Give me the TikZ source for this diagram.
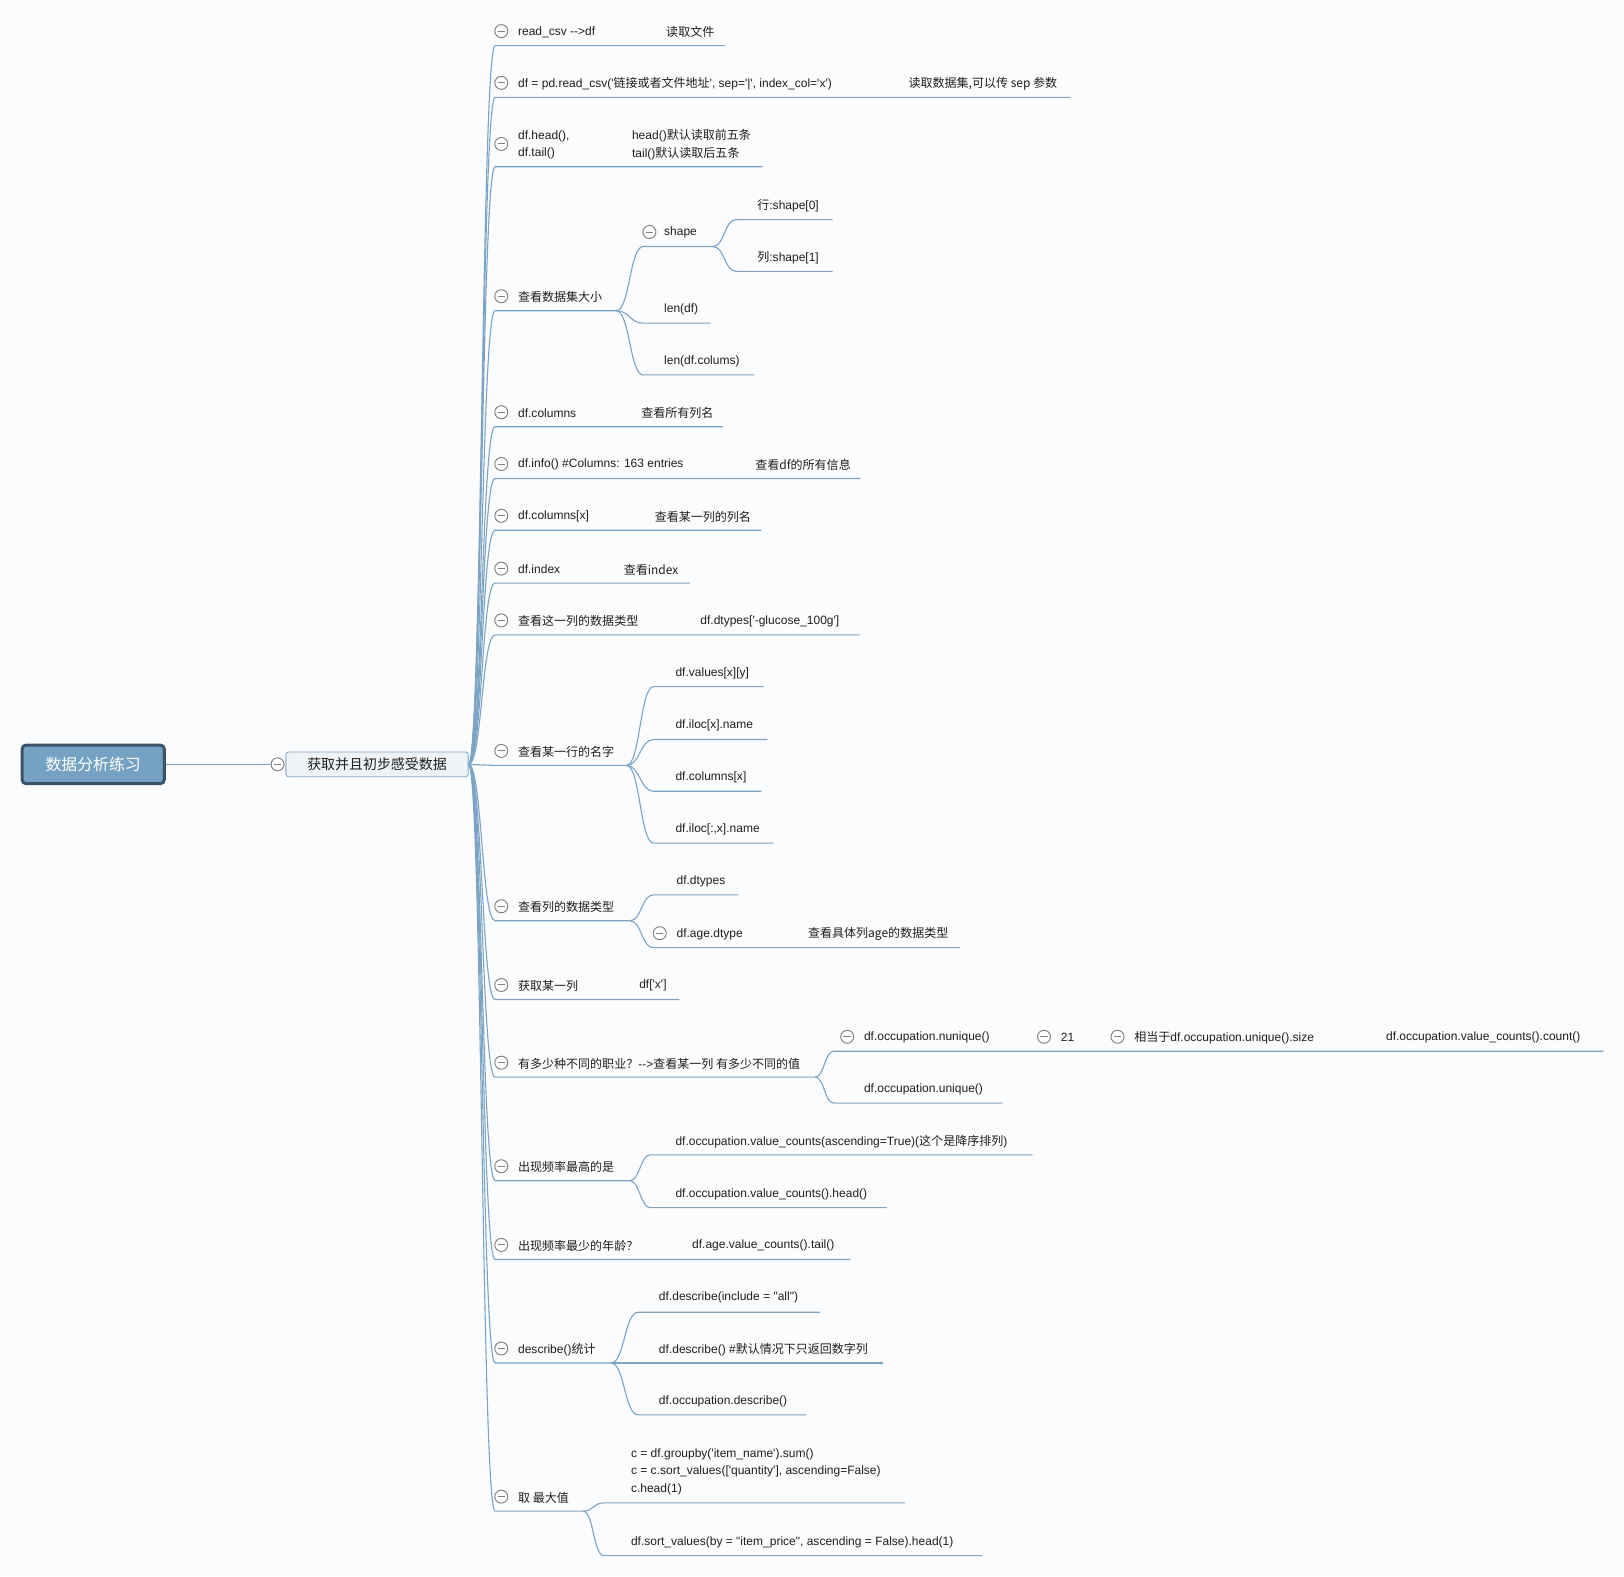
\documentclass[tikz,border=0pt]{standalone}
\usepackage{fontspec}
\newfontfamily\en{Liberation Sans}
\newfontfamily\zh{Noto Sans CJK SC}
\usepackage{tikz}
\usetikzlibrary{positioning, calc}

\definecolor{bgc}{RGB}{251,252,253}
\definecolor{linkc}{RGB}{125,163,196}
\definecolor{txtc}{RGB}{30,30,30}
\definecolor{foldc}{RGB}{130,130,130}
\definecolor{rootfill}{RGB}{117,162,195}
\definecolor{rootline}{RGB}{60,82,102}
\definecolor{subfill}{RGB}{238,243,248}
\definecolor{subline}{RGB}{128,164,196}
\newcommand\fs{\fontsize{8.7}{12.75}\selectfont}

\begin{document}
\begin{tikzpicture}[x=0.75pt, y=-0.75pt,
    txt/.style={anchor=west, inner sep=0pt, yshift=-0.6pt, text=txtc, font=\en\fs, align=left},
    fold/.style={circle, draw=foldc, fill=white, line width=0.7pt, minimum size=9.4pt, inner sep=0pt,
        path picture={\draw[foldc, line width=0.7pt] ([xshift=2pt]path picture bounding box.west) -- ([xshift=-2pt]path picture bounding box.east);}},
    link/.style={draw=linkc, line width=0.8pt},
    rootbox/.style={rectangle, rounded corners=3pt, draw=rootline, fill=rootfill, line width=2.2pt,
        minimum width=103pt, minimum height=28pt, text=white, font=\zh\fontsize{11.5}{14}\selectfont},
    subbox/.style={rectangle, rounded corners=2pt, draw=subline, fill=subfill, line width=0.6pt,
        minimum width=132pt, minimum height=18pt, text=txtc, font=\zh\fontsize{10.1}{12}\selectfont}]

    % background and page size
    \fill[bgc] (0,0) rectangle (1568,1522);

    % central topic
    \node[rootbox] (root) at (90,738) {数据分析练习};
    \node[subbox] (sub) at (364,738) {获取并且初步感受数据};
    \node[fold] (f0) at (268,738) {};
    \draw[link] (root.east) -- (f0.west);
    \coordinate (m0) at (sub.east);

    % read_csv
    \node[fold] (f1) at (484,30) {};
    \node[txt] (t1) at (500,30) {read\_csv -->df};
    \node[txt] (t1b) at (643,30) {\zh 读取文件};
    \coordinate (u1) at (478,44); \coordinate (e1) at (700,44);
    \draw[link] (m0) .. controls +(13,0) and +(-13,0) .. (u1) -- (e1);

    % pd.read_csv
    \node[fold] (f2) at (484,80) {};
    \node[txt] (t2) at (500,80) {df = pd.read\_csv('{\zh 链接或者文件地址}', sep='|', index\_col='x')};
    \node[txt] (t2b) at (877,80) {\zh 读取数据集,可以传 sep 参数};
    \coordinate (u2) at (478,94); \coordinate (e2) at (1033,94);
    \draw[link] (m0) .. controls +(13,0) and +(-13,0) .. (u2) -- (e2);

    % head / tail
    \node[fold] (f3) at (484,139) {};
    \node[txt] (t3) at (500,139) {df.head(),\\df.tail()};
    \node[txt] (t3b) at (610,139) {head(){\zh 默认读取前五条}\\tail(){\zh 默认读取后五条}};
    \coordinate (u3) at (478,161); \coordinate (e3) at (736,161);
    \draw[link] (m0) .. controls +(13,0) and +(-13,0) .. (u3) -- (e3);

    % size of the data set
    \node[fold] (f4) at (484,286) {};
    \node[txt] (t4) at (500,286) {\zh 查看数据集大小};
    \coordinate (u4) at (478,300); \coordinate (e4) at (595,300);
    \draw[link] (m0) .. controls +(13,0) and +(-13,0) .. (u4) -- (e4);

    \node[fold] (f4a) at (627,224) {};
    \node[txt] (t4a) at (641,224) {shape};
    \coordinate (u4a) at (621,238); \coordinate (e4a) at (688,238);
    \draw[link] (e4) .. controls +(13,0) and +(-13,0) .. (u4a) -- (e4a);
    \node[txt] (t4a1) at (731,198) {{\zh 行}:shape[0]};
    \coordinate (u4a1) at (711,212); \coordinate (e4a1) at (804,212);
    \draw[link] (e4a) .. controls +(12,0) and +(-12,0) .. (u4a1) -- (e4a1);
    \node[txt] (t4a2) at (731,248) {{\zh 列}:shape[1]};
    \coordinate (u4a2) at (711,262); \coordinate (e4a2) at (804,262);
    \draw[link] (e4a) .. controls +(12,0) and +(-12,0) .. (u4a2) -- (e4a2);
    \node[txt] (t4b) at (641,298) {len(df)};
    \coordinate (u4b) at (621,312); \coordinate (e4b) at (686,312);
    \draw[link] (e4) .. controls +(13,0) and +(-13,0) .. (u4b) -- (e4b);
    \node[txt] (t4c) at (641,348) {len(df.colums)};
    \coordinate (u4c) at (621,362); \coordinate (e4c) at (728,362);
    \draw[link] (e4) .. controls +(13,0) and +(-13,0) .. (u4c) -- (e4c);

    % columns
    \node[fold] (f5) at (484,398) {};
    \node[txt] (t5) at (500,398) {df.columns};
    \node[txt] (t5b) at (619,398) {\zh 查看所有列名};
    \coordinate (u5) at (478,412); \coordinate (e5) at (698,412);
    \draw[link] (m0) .. controls +(13,0) and +(-13,0) .. (u5) -- (e5);

    % info
    \node[fold] (f6) at (484,448) {};
    \node[txt] (t6) at (500,448) {df.info() \#Columns: 163 entries};
    \node[txt] (t6b) at (729,448) {\zh 查看df的所有信息};
    \coordinate (u6) at (478,462); \coordinate (e6) at (831,462);
    \draw[link] (m0) .. controls +(13,0) and +(-13,0) .. (u6) -- (e6);

    % one column name
    \node[fold] (f7) at (484,498) {};
    \node[txt] (t7) at (500,498) {df.columns[x]};
    \node[txt] (t7b) at (632,498) {\zh 查看某一列的列名};
    \coordinate (u7) at (478,512); \coordinate (e7) at (735,512);
    \draw[link] (m0) .. controls +(13,0) and +(-13,0) .. (u7) -- (e7);

    % index
    \node[fold] (f8) at (484,549) {};
    \node[txt] (t8) at (500,549) {df.index};
    \node[txt] (t8b) at (602,549) {\zh 查看index};
    \coordinate (u8) at (478,563); \coordinate (e8) at (666,563);
    \draw[link] (m0) .. controls +(13,0) and +(-13,0) .. (u8) -- (e8);

    % dtype of one column
    \node[fold] (f9) at (484,599) {};
    \node[txt] (t9) at (500,599) {\zh 查看这一列的数据类型};
    \node[txt] (t9b) at (676,599) {df.dtypes['-glucose\_100g']};
    \coordinate (u9) at (478,613); \coordinate (e9) at (830,613);
    \draw[link] (m0) .. controls +(13,0) and +(-13,0) .. (u9) -- (e9);

    % row name
    \node[fold] (f10) at (484,725) {};
    \node[txt] (t10) at (500,725) {\zh 查看某一行的名字};
    \coordinate (u10) at (478,739); \coordinate (e10) at (605,739);
    \draw[link] (m0) .. controls +(13,0) and +(-13,0) .. (u10) -- (e10);
    \node[txt] (t10a) at (652,649) {df.values[x][y]};
    \coordinate (u10a) at (631,663); \coordinate (e10a) at (737,663);
    \draw[link] (e10) .. controls +(13,0) and +(-13,0) .. (u10a) -- (e10a);
    \node[txt] (t10b) at (652,700) {df.iloc[x].name};
    \coordinate (u10b) at (631,714); \coordinate (e10b) at (741,714);
    \draw[link] (e10) .. controls +(13,0) and +(-13,0) .. (u10b) -- (e10b);
    \node[txt] (t10c) at (652,750) {df.columns[x]};
    \coordinate (u10c) at (631,764); \coordinate (e10c) at (735,764);
    \draw[link] (e10) .. controls +(13,0) and +(-13,0) .. (u10c) -- (e10c);
    \node[txt] (t10d) at (652,800) {df.iloc[:,x].name};
    \coordinate (u10d) at (631,814); \coordinate (e10d) at (747,814);
    \draw[link] (e10) .. controls +(13,0) and +(-13,0) .. (u10d) -- (e10d);

    % dtypes
    \node[fold] (f11) at (484,875) {};
    \node[txt] (t11) at (500,875) {\zh 查看列的数据类型};
    \coordinate (u11) at (478,889); \coordinate (e11) at (608,889);
    \draw[link] (m0) .. controls +(13,0) and +(-13,0) .. (u11) -- (e11);
    \node[txt] (t11a) at (653,850) {df.dtypes};
    \coordinate (u11a) at (631,864); \coordinate (e11a) at (713,864);
    \draw[link] (e11) .. controls +(12,0) and +(-12,0) .. (u11a) -- (e11a);
    \node[fold] (f11b) at (637,901) {};
    \node[txt] (t11b) at (653,901) {df.age.dtype};
    \node[txt] (t11bb) at (780,901) {\zh 查看具体列age的数据类型};
    \coordinate (u11b) at (631,915); \coordinate (e11b) at (927,915);
    \draw[link] (e11) .. controls +(12,0) and +(-12,0) .. (u11b) -- (e11b);

    % one column
    \node[fold] (f12) at (484,951) {};
    \node[txt] (t12) at (500,951) {\zh 获取某一列};
    \node[txt] (t12b) at (617,951) {df['x']};
    \coordinate (u12) at (478,965); \coordinate (e12) at (656,965);
    \draw[link] (m0) .. controls +(13,0) and +(-13,0) .. (u12) -- (e12);

    % occupations
    \node[fold] (f13) at (484,1026) {};
    \node[txt] (t13) at (500,1026) {{\zh 有多少种不同的职业？}-->{\zh 查看某一列 有多少不同的值}};
    \coordinate (u13) at (478,1040); \coordinate (e13) at (787,1040);
    \draw[link] (m0) .. controls +(13,0) and +(-13,0) .. (u13) -- (e13);
    \node[fold] (f13a) at (818,1001) {};
    \node[txt] (t13a) at (834,1001) {df.occupation.nunique()};
    \node[fold] (f13a1) at (1008,1001) {};
    \node[txt] (t13a1) at (1024,1001) {21};
    \node[fold] (f13a2) at (1079,1001) {};
    \node[txt] (t13a2) at (1095,1001) {{\zh 相当于}df.occupation.unique().size};
    \node[txt] (t13a2b) at (1338,1001) {df.occupation.value\_counts().count()};
    \coordinate (u13a) at (805,1015); \coordinate (u13a1) at (1002,1015);
    \coordinate (u13a2) at (1073,1015); \coordinate (e13a) at (1548,1015);
    \draw[link] (e13) .. controls +(9,0) and +(-9,0) .. (u13a) -- (u13a1) -- (u13a2) -- (e13a);
    \node[txt] (t13b) at (834,1051) {df.occupation.unique()};
    \coordinate (u13b) at (805,1065); \coordinate (e13b) at (968,1065);
    \draw[link] (e13) .. controls +(9,0) and +(-9,0) .. (u13b) -- (e13b);

    % most frequent
    \node[fold] (f14) at (484,1126) {};
    \node[txt] (t14) at (500,1126) {\zh 出现频率最高的是};
    \coordinate (u14) at (478,1140); \coordinate (e14) at (608,1140);
    \draw[link] (m0) .. controls +(13,0) and +(-13,0) .. (u14) -- (e14);
    \node[txt] (t14a) at (652,1101) {df.occupation.value\_counts(ascending=True)({\zh 这个是降序排列})};
    \coordinate (u14a) at (628,1115); \coordinate (e14a) at (997,1115);
    \draw[link] (e14) .. controls +(10,0) and +(-10,0) .. (u14a) -- (e14a);
    \node[txt] (t14b) at (652,1152) {df.occupation.value\_counts().head()};
    \coordinate (u14b) at (628,1166); \coordinate (e14b) at (856,1166);
    \draw[link] (e14) .. controls +(10,0) and +(-10,0) .. (u14b) -- (e14b);

    % least frequent age
    \node[fold] (f15) at (484,1202) {};
    \node[txt] (t15) at (500,1202) {\zh 出现频率最少的年龄？};
    \node[txt] (t15b) at (668,1202) {df.age.value\_counts().tail()};
    \coordinate (u15) at (478,1216); \coordinate (e15) at (821,1216);
    \draw[link] (m0) .. controls +(13,0) and +(-13,0) .. (u15) -- (e15);

    % describe
    \node[fold] (f16) at (484,1302) {};
    \node[txt] (t16) at (500,1302) {describe(){\zh 统计}};
    \coordinate (u16) at (478,1316); \coordinate (e16) at (590,1316);
    \draw[link] (m0) .. controls +(13,0) and +(-13,0) .. (u16) -- (e16);
    \node[txt] (t16a) at (636,1252) {df.describe(include = "all")};
    \coordinate (u16a) at (616,1267); \coordinate (e16a) at (792,1267);
    \draw[link] (e16) .. controls +(13,0) and +(-13,0) .. (u16a) -- (e16a);
    \node[txt] (t16b) at (636,1302) {df.describe() \#{\zh 默认情况下只返回数字列}};
    \coordinate (u16b) at (616,1316); \coordinate (e16b) at (853,1316);
    \draw[link] (e16) -- (u16b) -- (e16b);
    \node[txt] (t16c) at (636,1352) {df.occupation.describe()};
    \coordinate (u16c) at (616,1366); \coordinate (e16c) at (778,1366);
    \draw[link] (e16) .. controls +(13,0) and +(-13,0) .. (u16c) -- (e16c);

    % max value
    \node[fold] (f17) at (484,1445) {};
    \node[txt] (t17) at (500,1445) {\zh 取 最大值};
    \coordinate (u17) at (478,1459); \coordinate (e17) at (563,1459);
    \draw[link] (m0) .. controls +(13,0) and +(-13,0) .. (u17) -- (e17);
    \node[txt] (t17a) at (609,1420) {c = df.groupby('item\_name').sum()\\c = c.sort\_values(['quantity'], ascending=False)\\c.head(1)};
    \coordinate (u17a) at (583,1451); \coordinate (e17a) at (874,1451);
    \draw[link] (e17) .. controls +(10,0) and +(-10,0) .. (u17a) -- (e17a);
    \node[txt] (t17b) at (609,1488) {df.sort\_values(by = "item\_price", ascending = False).head(1)};
    \coordinate (u17b) at (583,1502); \coordinate (e17b) at (948,1502);
    \draw[link] (e17) .. controls +(10,0) and +(-10,0) .. (u17b) -- (e17b);
\end{tikzpicture}
\end{document}
